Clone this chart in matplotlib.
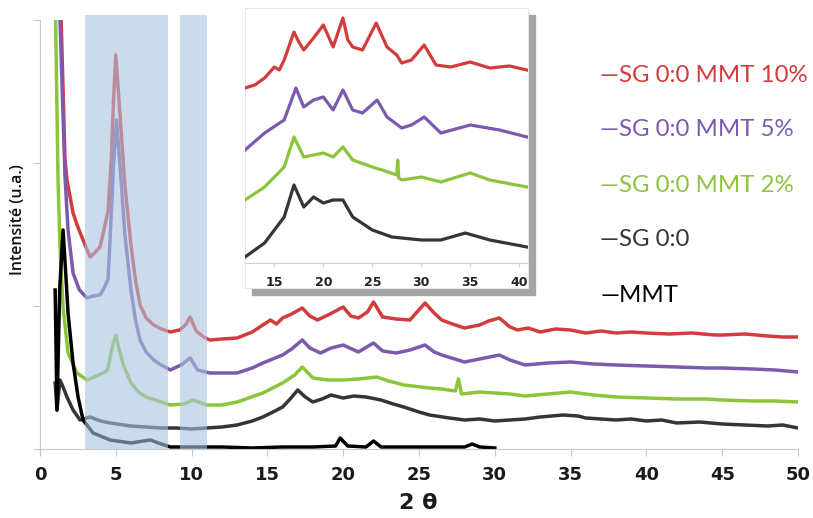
import numpy as np
import matplotlib.pyplot as plt
from matplotlib.patches import Rectangle

# =============================================================================
# data (intensity in arbitrary units)
# =============================================================================
x_mmt10 = [1.30, 1.65, 1.78, 2.18, 2.5, 2.84, 3.3, 3.6, 3.96, 4.2, 4.49, 4.7, 4.85, 5.0,
           5.15, 5.3, 5.6, 6.0, 6.3, 6.6, 7.0, 7.5, 8.0, 8.6, 9.2, 9.6, 9.9, 10.3, 10.8,
           11.2, 12.0, 13.0, 14.0, 15.2, 15.6, 16.0, 16.6, 17.3, 17.8, 18.3, 19.0, 20.0,
           20.5, 21.0, 21.6, 22.0, 22.6, 23.5, 24.4, 25.4, 26.0, 26.5, 27.2, 28.0, 29.0,
           29.6, 30.3, 31.0, 31.5, 32.2, 33.0, 34.0, 35.0, 36.0, 37.0, 38.0, 39.0, 40.0,
           41.5, 43.0, 44.5, 45.0, 46.5, 48.0, 49.0, 50.0]
y_mmt10 = [480, 289, 269, 236, 222, 209, 192, 196, 202, 218, 238, 289, 349, 394,
           362, 329, 264, 204, 169, 144, 131, 124, 120, 117, 119, 124, 132, 118, 112,
           109, 110, 111, 117, 129, 125, 131, 135, 141, 133, 129, 134, 142,
           133, 131, 137, 147, 132, 130, 129, 146, 136, 129, 125, 121, 124,
           128, 131, 122, 119, 121, 117, 120, 119, 116, 118, 116, 117, 116,
           115, 116, 114, 114, 115, 113, 112, 112]

x_mmt5 = [1.20, 1.32, 1.65, 1.85, 2.18, 2.6, 3.1, 3.5, 3.96, 4.2, 4.49, 4.7, 4.85, 5.05,
          5.3, 5.6, 6.0, 6.3, 6.6, 7.0, 7.5, 8.0, 8.6, 9.3, 9.9, 10.4, 11.2, 12.0,
          13.0, 14.0, 14.7, 16.0, 16.6, 17.3, 17.8, 18.5, 19.2, 20.0, 21.0, 22.0, 22.6,
          23.5, 24.4, 25.4, 26.0, 26.5, 28.0, 29.0, 30.3, 31.0, 32.0, 33.5, 35.0, 36.5,
          38.0, 40.0, 42.0, 44.0, 45.0, 47.0, 48.5, 50.0]
y_mmt5 = [480, 429, 272, 219, 176, 159, 151, 153, 154, 160, 170, 234, 284, 329,
          279, 214, 159, 129, 109, 97, 89, 84, 79, 84, 91, 79, 76, 76,
          76, 81, 86, 94, 100, 109, 101, 96, 101, 104, 97, 106, 98,
          96, 99, 104, 97, 94, 87, 90, 94, 89, 84, 86, 87, 85,
          84, 83, 82, 81, 81, 80, 79, 77]

x_mmt2 = [1.02, 1.19, 1.32, 1.52, 1.85, 2.44, 3.1, 3.6, 4.0, 4.42, 4.6, 4.8, 5.0, 5.2,
          5.5, 6.0, 6.5, 7.0, 8.0, 8.6, 9.5, 10.1, 11.0, 12.0, 13.0, 14.7, 16.0, 16.8,
          17.3, 18.0, 19.0, 20.0, 21.0, 22.2, 23.0, 24.0, 25.7, 26.5, 27.4, 27.6, 27.8,
          29.0, 30.0, 31.0, 32.0, 33.5, 35.0, 36.5, 38.0, 40.0, 42.0, 44.0, 45.0, 47.0,
          48.5, 50.0]
y_mmt2 = [440, 269, 202, 142, 96, 76, 69, 72, 75, 78, 89, 104, 114, 101,
          84, 66, 57, 52, 47, 44, 45, 49, 44, 44, 47, 56, 66, 74,
          82, 71, 69, 69, 70, 72, 68, 64, 61, 60, 58, 70, 55,
          57, 56, 55, 53, 55, 57, 54, 52, 51, 50, 50, 49, 48,
          48, 47]

x_sg00 = [1.0, 1.12, 1.32, 1.52, 1.78, 2.18, 2.64, 3.3, 4.0, 4.62, 6.0, 7.0, 8.0, 9.0,
          10.0, 11.0, 12.0, 13.0, 14.0, 14.7, 15.5, 16.0, 16.5, 17.0, 17.5, 18.0, 18.6,
          19.2, 20.0, 20.7, 21.5, 22.5, 23.3, 24.0, 25.0, 25.7, 27.0, 28.0, 29.0, 30.0,
          31.0, 32.0, 33.0, 34.5, 35.5, 36.0, 37.0, 38.0, 39.0, 40.0, 41.0, 42.0, 43.5,
          45.0, 46.5, 48.0, 49.0, 50.0]
y_sg00 = [66, 39, 69, 62, 52, 39, 29, 32, 28, 26, 23, 22, 21, 21,
          20, 21, 22, 24, 28, 32, 38, 42, 50, 59, 52, 47, 50,
          54, 51, 53, 52, 49, 45, 42, 37, 34, 31, 29, 30, 28,
          29, 30, 32, 34, 33, 31, 30, 29, 30, 28, 29, 26, 27,
          25, 24, 23, 24, 21]

x_mmt = [1.0, 1.12, 1.30, 1.52, 1.70, 1.85, 2.18, 2.51, 2.84, 3.5, 4.62, 6.0, 6.8, 7.3,
         7.8, 8.6, 10.0, 12.0, 14.0, 16.0, 18.0, 19.5, 19.8, 20.3, 21.5, 22.0, 22.5,
         24.0, 26.0, 28.0, 28.5, 29.0, 30.0]
y_mmt = [159, 39, 160, 219, 175, 136, 86, 52, 29, 16, 9, 6, 8, 9,
         6, 2, 2, 2, 1, 2, 2, 3, 11, 3, 2, 8, 2,
         2, 2, 2, 5, 2, 1]

# inset (zoom 12-41 deg)
xi_mmt10 = [12, 13, 14, 15, 15.5, 16, 17, 17.5, 18, 19, 20, 21, 22, 22.5, 23, 24, 25.4,
            26.5, 27.5, 28, 29, 30.3, 31.5, 33, 35, 37, 39, 40.8]
yi_mmt10 = [175, 178, 185, 196, 193, 203, 231, 221, 213, 225, 238, 216, 245, 223, 216,
            213, 240, 216, 208, 200, 203, 218, 198, 196, 201, 195, 197, 193]
xi_mmt5 = [12, 14, 16, 17.2, 18, 19, 20, 21, 22, 23, 24, 25.5, 26.5, 28, 29, 30.3, 32,
           35, 38, 40.8]
yi_mmt5 = [113, 130, 143, 175, 156, 163, 166, 153, 173, 153, 150, 163, 146, 135, 138,
           146, 130, 138, 133, 126]
xi_mmt2 = [12, 14, 16, 17, 18, 19, 20, 21, 22, 23, 25, 26, 27.5, 27.6, 27.7, 28, 30, 32,
           35, 37, 40.8]
yi_mmt2 = [63, 76, 96, 126, 106, 108, 110, 106, 116, 103, 96, 93, 88, 103, 85, 83, 86,
           81, 90, 83, 76]
xi_sg00 = [12, 14, 16, 17, 18, 19, 20, 21, 22, 23, 25, 27, 30, 32, 34.5, 37, 40.8]
yi_sg00 = [6, 20, 46, 78, 56, 66, 60, 63, 63, 46, 33, 26, 23, 23, 30, 23, 16]

labels = ['SG 0:0 MMT 10%', 'SG 0:0 MMT 5%', 'SG 0:0 MMT 2%', 'SG 0:0', 'MMT']
colors = ['#d23c3c', '#7b5aae', '#8cc43c', '#353535', '#000000']
shade_ranges = [(3.0, 8.45), (9.25, 11.0)]

# =============================================================================
# figure
# =============================================================================
W, H = 813, 518
fig = plt.figure(figsize=(W/100, H/100), dpi=100)

def fx(px):
    return px / W

def fy(py):
    return 1 - py / H

ax = fig.add_axes([fx(40), fy(449), fx(798) - fx(40), fy(20) - fy(449)])
series = [(x_mmt10, y_mmt10), (x_mmt5, y_mmt5), (x_mmt2, y_mmt2), (x_sg00, y_sg00), (x_mmt, y_mmt)]
for (xs, ys), c in zip(series, colors):
    ax.plot(xs, ys, color=c, lw=2.5, solid_joinstyle='round')

for a, b in shade_ranges:
    ax.axvspan(a, b, ymin=0, ymax=1.012, color='#a9c4e0', alpha=0.6, lw=0, zorder=5, clip_on=False)

ax.set_xlim(0, 50)
ax.set_ylim(0, 429)
ax.set_xticks(np.arange(0, 51, 5))
ax.set_yticks([0, 143, 286, 429])
ax.set_yticklabels([])
for s in ['top', 'right']:
    ax.spines[s].set_visible(False)
for s in ['left', 'bottom']:
    ax.spines[s].set_color('#c8c8c8')
ax.tick_params(axis='both', color='#c8c8c8', length=5, direction='out')
ax.tick_params(axis='x', labelsize=13, pad=7, labelcolor='#1a1a1a')
for t in ax.get_xticklabels():
    t.set_fontweight('bold')
    t.set_family(['Liberation Sans Narrow', 'DejaVu Sans'])

fig.text(fx(418), fy(503), '2 \u03b8', ha='center', va='center', fontsize=16,
         fontweight='bold', color='#1a1a1a')
fig.text(fx(18), fy(220), 'Intensité (u.a.)', rotation=90, ha='center', va='center',
         fontsize=11.5, fontweight='semibold', color='#111111', family=['Open Sans', 'DejaVu Sans'])

# legend as coloured text
leg_y = [75, 130, 185, 240, 295]
for lab, c, py in zip(labels, colors, leg_y):
    fig.text(fx(600), fy(py), '\u2014' + lab, color=c, fontsize=17.3, ha='left', va='center',
             family=['Lato', 'DejaVu Sans'])

# inset with drop shadow
fig.add_artist(Rectangle((fx(252), fy(295)), fx(535) - fx(252), fy(15) - fy(295),
                         transform=fig.transFigure, color='#a4a4a4', zorder=1))
fig.add_artist(Rectangle((fx(245), fy(288)), fx(528) - fx(245), fy(8) - fy(288),
                         transform=fig.transFigure, facecolor='white', edgecolor='#e6e6e6',
                         lw=0.8, zorder=2))
axi = fig.add_axes([fx(245), fy(263), fx(528) - fx(245), fy(8) - fy(263)], zorder=3)
axi.patch.set_alpha(0)
inset_series = [(xi_mmt10, yi_mmt10), (xi_mmt5, yi_mmt5), (xi_mmt2, yi_mmt2), (xi_sg00, yi_sg00)]
for (xs, ys), c in zip(inset_series, colors[:4]):
    axi.plot(xs, ys, color=c, lw=2.3, solid_joinstyle='round')
axi.set_xlim(12, 40.9)
axi.set_ylim(0, 255)
axi.set_xticks([15, 20, 25, 30, 35, 40])
axi.set_yticks([])
for s in ['top', 'right', 'left']:
    axi.spines[s].set_visible(False)
axi.spines['bottom'].set_color('#d0d0d0')
axi.tick_params(axis='x', color='#d0d0d0', length=3, labelsize=9, pad=6, labelcolor='#222222')
for t in axi.get_xticklabels():
    t.set_fontweight('bold')

fig.savefig('out.png', dpi=100)
